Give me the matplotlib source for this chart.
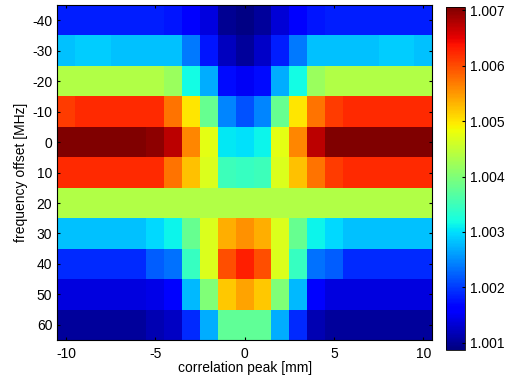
import numpy as np
import matplotlib
matplotlib.use('Agg')
import matplotlib.pyplot as plt

plt.rcParams['font.family'] = ['Liberation Sans', 'DejaVu Sans']
plt.rcParams['axes.unicode_minus'] = False

# 数据：列 = 相关峰位置 [mm]，行 = 频率偏移 [MHz]
peak_mm = list(range(-10, 11))
freq_mhz = [-40, -30, -20, -10, 0, 10, 20, 30, 40, 50, 60]

row_m40 = [1.00183] * 6 + [1.00177, 1.00160, 1.00140, 1.00098, 1.00090, 1.00102, 1.00134, 1.00160, 1.00177] + [1.00183] * 6
row_m30 = [1.00282, 1.00288, 1.00288, 1.00282, 1.00282, 1.00282, 1.00282, 1.00239, 1.00177, 1.00121, 1.00102,
           1.00127, 1.00183, 1.00239, 1.00282, 1.00282, 1.00282, 1.00282, 1.00288, 1.00288, 1.00282]
row_m20 = [1.00437] * 6 + [1.00419, 1.00319, 1.00270, 1.00170, 1.00152, 1.00170, 1.00270, 1.00319, 1.00419] + [1.00437] * 6
row_m10 = [1.00611] + [1.00623] * 5 + [1.00574, 1.00499, 1.00381, 1.00245, 1.00214, 1.00245, 1.00381, 1.00499, 1.00574,
                                       1.00611] + [1.00623] * 5
row_0 = [1.00710] * 5 + [1.00698, 1.00673, 1.00561, 1.00474, 1.00307, 1.00301, 1.00313, 1.00474, 1.00561, 1.00673] + [1.00710] * 6
row_10 = [1.00623] * 6 + [1.00574, 1.00524, 1.00468, 1.00350, 1.00344, 1.00350, 1.00468, 1.00524, 1.00574, 1.00611] + [1.00623] * 5
row_20 = [1.00437] * 21
row_30 = [1.00282] * 5 + [1.00295, 1.00313, 1.00381, 1.00468, 1.00536, 1.00555, 1.00536, 1.00468, 1.00381, 1.00313,
                          1.00295] + [1.00282] * 5
row_40 = [1.00189] * 5 + [1.00220, 1.00233, 1.00344, 1.00468, 1.00598, 1.00629, 1.00598, 1.00468, 1.00344, 1.00233,
                          1.00220] + [1.00189] * 5
row_50 = [1.00140] * 5 + [1.00145, 1.00165, 1.00276, 1.00400, 1.00518, 1.00543, 1.00518, 1.00400, 1.00276, 1.00165,
                          1.00140] + [1.00140] * 5
row_60 = [1.00102] * 5 + [1.00115, 1.00124, 1.00189, 1.00270, 1.00375, 1.00375, 1.00375, 1.00270, 1.00189, 1.00115,
                          1.00102] + [1.00102] * 5

values = np.array([row_m40, row_m30, row_m20, row_m10, row_0, row_10,
                   row_20, row_30, row_40, row_50, row_60])

x_ticks = [-10, -5, 0, 5, 10]
cbar_ticks = [1.001, 1.002, 1.003, 1.004, 1.005, 1.006, 1.007]

fig = plt.figure(figsize=(5.06, 3.83), dpi=100)
ax = fig.add_axes([0.113, 0.112, 0.741, 0.875])
cax = fig.add_axes([0.881, 0.086, 0.0375, 0.896])

mesh = ax.pcolormesh(peak_mm, freq_mhz, values, shading='nearest', cmap='jet',
                     vmin=1.00087, vmax=1.00706)
ax.set_xlim(-10.5, 10.5)
ax.set_ylim(65, -45)
ax.set_xticks(x_ticks)
ax.set_yticks(freq_mhz)
ax.tick_params(direction='in', length=2, labelsize=10, top=True, right=True)
ax.tick_params(axis='x', pad=5)
ax.set_xlabel('correlation peak [mm]', fontsize=10, labelpad=0)
ax.set_ylabel('frequency offset [MHz]', fontsize=10, labelpad=3)

cb = fig.colorbar(mesh, cax=cax, ticks=cbar_ticks)
cb.ax.set_yticklabels(['%.3f' % t for t in cbar_ticks])
cb.ax.tick_params(direction='in', length=2, labelsize=10)
cb.outline.set_linewidth(0.6)

fig.savefig('out.png', dpi=100)
